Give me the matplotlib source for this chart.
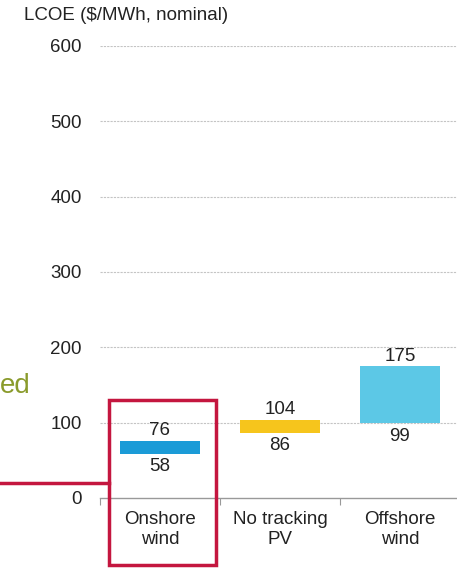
import matplotlib.pyplot as plt
from matplotlib.patches import Rectangle
from matplotlib.lines import Line2D

plt.rcParams['font.family'] = ['Liberation Sans', 'DejaVu Sans']

# data
categories = ['Onshore\nwind', 'No tracking\nPV', 'Offshore\nwind']
low_vals = [58, 86, 99]
high_vals = [76, 104, 175]
colors = ['#1b9bd7', '#f6c51c', '#5cc8e6']
y_ticks = [0, 100, 200, 300, 400, 500, 600]

W, H = 457, 568
FS = 13.5
TXT = '#222222'
fig = plt.figure(figsize=(W / 100, H / 100), dpi=100)
ax = fig.add_axes([100 / W, 70 / H, 360 / W, 452 / H])

pos = [0.5, 1.5, 2.5]
heights = [h - l for h, l in zip(high_vals, low_vals)]
ax.bar(pos, heights, bottom=low_vals, width=0.67, color=colors, zorder=3)

for x, lo, hi in zip(pos, low_vals, high_vals):
    ax.annotate(str(hi), (x, hi), xytext=(0, 1), textcoords='offset points',
                ha='center', va='bottom', fontsize=FS, color=TXT)
    ax.annotate(str(lo), (x, lo), xytext=(0, -3), textcoords='offset points',
                ha='center', va='top', fontsize=FS, color=TXT)

ax.set_xlim(0, 3)
ax.set_ylim(0, 600)
ax.set_yticks(y_ticks)
ax.set_yticklabels([str(v) for v in y_ticks], fontsize=FS, color=TXT)
ax.tick_params(axis='y', length=0, pad=13)

# x ticks at category boundaries, labels in the middle
ax.set_xticks([0, 1, 2, 3])
ax.set_xticklabels([])
ax.set_xticks(pos, minor=True)
ax.set_xticklabels(categories, minor=True, fontsize=FS, color=TXT,
                   linespacing=1.3)
ax.tick_params(axis='x', which='major', length=5, color='#999999', direction='out')
ax.tick_params(axis='x', which='minor', length=0, pad=9)

for yv in y_ticks[1:]:
    ax.axhline(yv, color='#c4c4c4', linestyle=(0, (2, 1)), linewidth=0.8, zorder=1)

for s in ['top', 'right', 'left']:
    ax.spines[s].set_visible(False)
ax.spines['bottom'].set_color('#999999')
ax.spines['bottom'].set_linewidth(1)

fig.text(24 / W, 1 - 16 / H, 'LCOE ($/MWh, nominal)', fontsize=FS,
         color=TXT, va='center', ha='left')

# annotation text cropped by the slide on the left
fig.text(0, 1 - 386 / H, 'ed', fontsize=20, color='#8a9b2c',
         va='center', ha='left')

# red highlight box and connector line
red = '#c4163f'
fig.add_artist(Rectangle((109 / W, 3 / H), 107 / W, 165 / H, transform=fig.transFigure,
                         fill=False, edgecolor=red, linewidth=2.5, zorder=5))
fig.add_artist(Line2D([0, 109 / W], [1 - 483 / H, 1 - 483 / H], transform=fig.transFigure,
                      color=red, linewidth=2.5, zorder=5))

fig.savefig('out.png', dpi=100)
